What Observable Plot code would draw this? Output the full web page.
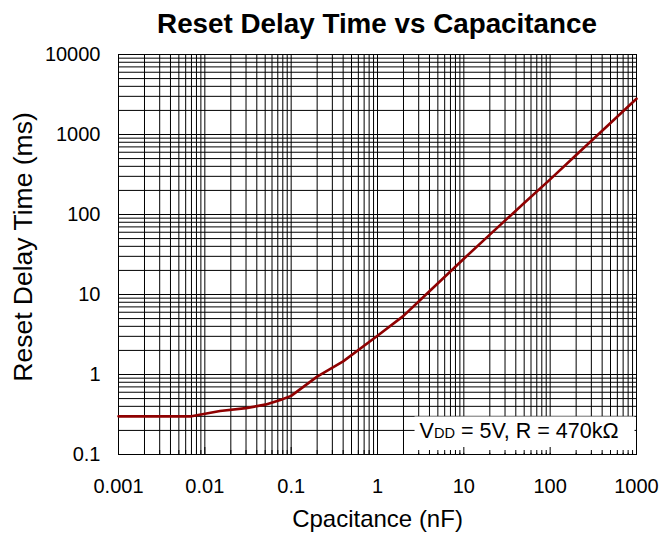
<!DOCTYPE html>
<html>
<head>
<meta charset="utf-8">
<script src="https://cdn.jsdelivr.net/npm/d3@7"></script>
<script src="https://cdn.jsdelivr.net/npm/@observablehq/plot@0.6"></script>
<style>
  html, body { margin: 0; padding: 0; background: #fff; }
  #wrap { width: 659px; height: 535px; overflow: hidden; font-family: "Liberation Sans", Arial, sans-serif; }
  #title { width: 659px; height: 40px; box-sizing: border-box; padding: 10px 23px 0 118px; line-height: 28px;
           font-size: 27.8px; font-weight: bold; text-align: center; white-space: nowrap; color: #000; }
  svg { display: block; }
</style>
</head>
<body>
<div id="wrap">
  <div id="title">Reset Delay Time vs Capacitance</div>
  <div id="chart"></div>
</div>
<script>
// ---- data ----
const capacitance = [0.001, 0.007, 0.015, 0.03, 0.05, 0.075, 0.1, 0.2, 0.4, 1, 2, 4, 10, 20, 50, 100, 200, 500, 1000]; // nF
const delay       = [0.3,   0.3,   0.35,  0.38, 0.42, 0.48,  0.54, 0.94, 1.46, 3.05, 5.4, 11, 28, 56, 139, 275, 555, 1390, 2800]; // ms

const xTicks = [0.001, 0.01, 0.1, 1, 10, 100, 1000];
const xTickLabels = ["0.001", "0.01", "0.1", "1", "10", "100", "1000"];
const yTicks = [0.1, 1, 10, 100, 1000, 10000];
const yTickLabels = ["0.1", "1", "10", "100", "1000", "10000"];

const xLabel = "Cpacitance (nF)";
const yLabel = "Reset Delay Time (ms)";
const annotationText = "VDD = 5V, R = 470kΩ";

// ---- grid positions (1..9 × each decade) ----
function logGrid(lo, hi) {
  const out = [];
  for (let e = Math.round(Math.log10(lo)); e < Math.round(Math.log10(hi)); e++) {
    for (let m = 1; m <= 9; m++) out.push(+(m * Math.pow(10, e)).toPrecision(12));
  }
  out.push(hi);
  return out;
}
const xGrid = logGrid(0.001, 1000);
const yGrid = logGrid(0.1, 10000);
const xMinor = xGrid.filter(d => !xTicks.includes(d));

const data = capacitance.map((c, i) => ({c, t: delay[i]}));

const W = 659, H = 495;
const plot = Plot.plot({
  width: W,
  height: H,
  marginTop: 14,
  marginLeft: 118,
  marginRight: 23,
  marginBottom: 81,
  style: {fontFamily: '"Liberation Sans", Arial, sans-serif', fontSize: "20px", color: "#000", background: "#fff", overflow: "visible"},
  x: {type: "log", domain: [0.001, 1000], ticks: xTicks, tickFormat: d => xTickLabels[xTicks.indexOf(d)], tickSize: 0, tickPadding: 24, label: null},
  y: {type: "log", domain: [0.1, 10000], ticks: yTicks, tickFormat: d => yTickLabels[yTicks.indexOf(d)], tickSize: 0, tickPadding: 18, label: null},
  marks: [
    Plot.ruleX(xGrid, {x: d => d, stroke: "#000", strokeWidth: 1}),
    Plot.ruleY(yGrid, {y: d => d, stroke: "#000", strokeWidth: 1}),
    Plot.text([annotationText], {frameAnchor: "bottom-right", textAnchor: "end", lineAnchor: "middle",
      dx: -18, dy: -23.6, fontSize: 21.5, fill: "#000"}),
    Plot.tickX(xMinor, {x: d => d, stroke: "#000", insetTop: 396}),
    Plot.tickX(xTicks, {x: d => d, stroke: "#000", insetTop: 393}),
    Plot.frame({stroke: "#000", strokeWidth: 1}),
    Plot.line(data, {x: "c", y: "t", stroke: "#8f0000", strokeWidth: 2.6, strokeLinejoin: "round"}),
    Plot.text([xLabel], {frameAnchor: "bottom", textAnchor: "middle", lineAnchor: "middle", dy: 65, fontSize: 24, fill: "#000"}),
    Plot.text([yLabel], {frameAnchor: "left", textAnchor: "middle", lineAnchor: "middle", rotate: -90, dx: -95, dy: -7.5, fontSize: 26.5, fill: "#000"})
  ]
});
document.getElementById("chart").appendChild(plot);

// small "DD" on the baseline and a white background box behind the annotation
const ns = "http://www.w3.org/2000/svg";
const annot = Array.from(plot.querySelectorAll("text")).find(el => el.textContent === annotationText);
if (annot) {
  while (annot.firstChild) annot.removeChild(annot.firstChild);
  const parts = [["V", null], ["DD", "0.68em"], [" = 5V, R = 470kΩ", null]];
  for (const [s, fs] of parts) {
    const ts = document.createElementNS(ns, "tspan");
    if (fs) ts.setAttribute("font-size", fs);
    ts.textContent = s;
    annot.appendChild(ts);
  }
  const bb = annot.getBBox();
  const r = document.createElementNS(ns, "rect");
  r.setAttribute("x", bb.x - 5);
  r.setAttribute("y", bb.y - 2.3);
  r.setAttribute("width", bb.width + 21);
  r.setAttribute("height", bb.height + 12.3);
  r.setAttribute("fill", "#fff");
  const tr = annot.getAttribute("transform");
  if (tr) r.setAttribute("transform", tr);
  annot.parentNode.insertBefore(r, annot);
}
</script>
</body>
</html>
